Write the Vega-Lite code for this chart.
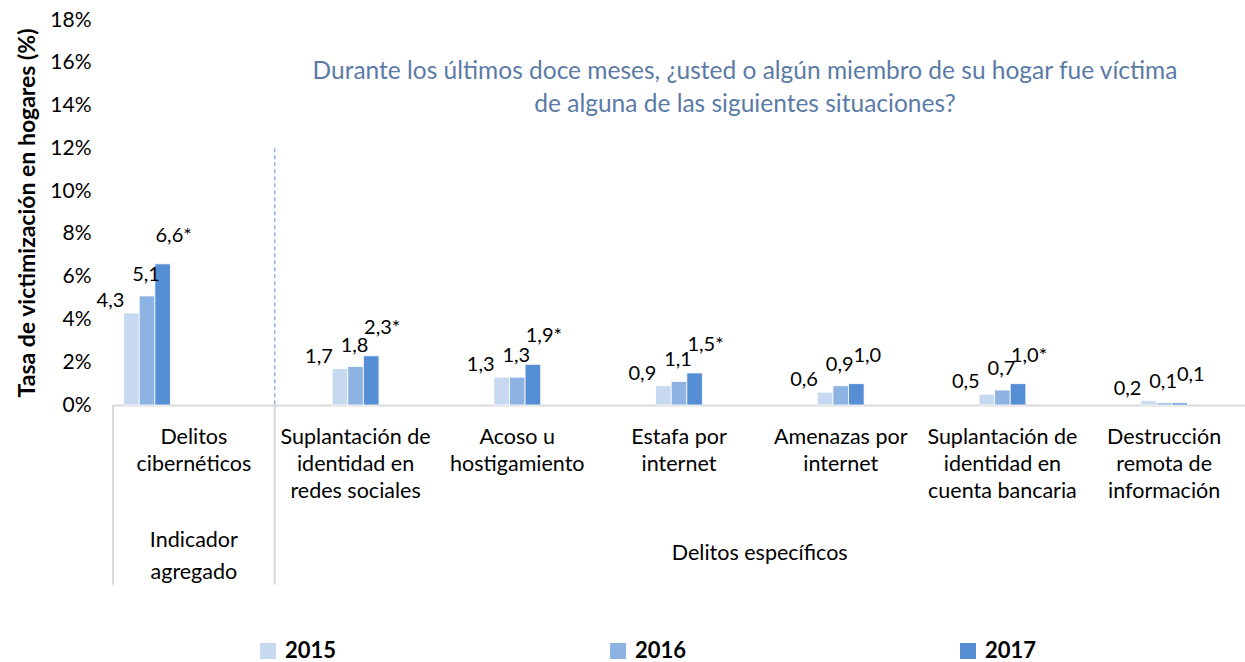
{
  "$schema": "https://vega.github.io/schema/vega-lite/v6.json",
  "width": 1132,
  "height": 385,
  "autosize": {"type": "none"},
  "padding": {"left": 113, "top": 20, "right": 0, "bottom": 257},
  "config": {"font": "Lato", "view": {"stroke": null}},
  "title": {
    "text": ["Durante los últimos doce meses, ¿usted o algún miembro de su hogar fue víctima", "de alguna de las siguientes situaciones?"],
    "font": "Lato", "fontSize": 24.5, "fontWeight": "normal", "color": "#5b7ba6",
    "anchor": "middle", "frame": "group", "dx": 66, "offset": -108, "lineHeight": 33
  },
  "data": {
    "values": [
      {"categoria": "Delitos cibernéticos", "anio": "2015", "serie": "Indicador 2015", "valor": 4.3, "etiqueta": "4,3"},
      {"categoria": "Delitos cibernéticos", "anio": "2016", "serie": "Indicador 2016", "valor": 5.1, "etiqueta": "5,1"},
      {"categoria": "Delitos cibernéticos", "anio": "2017", "serie": "Indicador 2017", "valor": 6.6, "etiqueta": "6,6*"},
      {"categoria": "Suplantación de identidad en redes sociales", "anio": "2015", "serie": "Específico 2015", "valor": 1.7, "etiqueta": "1,7"},
      {"categoria": "Suplantación de identidad en redes sociales", "anio": "2016", "serie": "Específico 2016", "valor": 1.8, "etiqueta": "1,8"},
      {"categoria": "Suplantación de identidad en redes sociales", "anio": "2017", "serie": "Específico 2017", "valor": 2.3, "etiqueta": "2,3*"},
      {"categoria": "Acoso u hostigamiento", "anio": "2015", "serie": "Específico 2015", "valor": 1.3, "etiqueta": "1,3"},
      {"categoria": "Acoso u hostigamiento", "anio": "2016", "serie": "Específico 2016", "valor": 1.3, "etiqueta": "1,3"},
      {"categoria": "Acoso u hostigamiento", "anio": "2017", "serie": "Específico 2017", "valor": 1.9, "etiqueta": "1,9*"},
      {"categoria": "Estafa por internet", "anio": "2015", "serie": "Específico 2015", "valor": 0.9, "etiqueta": "0,9"},
      {"categoria": "Estafa por internet", "anio": "2016", "serie": "Específico 2016", "valor": 1.1, "etiqueta": "1,1"},
      {"categoria": "Estafa por internet", "anio": "2017", "serie": "Específico 2017", "valor": 1.5, "etiqueta": "1,5*"},
      {"categoria": "Amenazas por internet", "anio": "2015", "serie": "Específico 2015", "valor": 0.6, "etiqueta": "0,6"},
      {"categoria": "Amenazas por internet", "anio": "2016", "serie": "Específico 2016", "valor": 0.9, "etiqueta": "0,9"},
      {"categoria": "Amenazas por internet", "anio": "2017", "serie": "Específico 2017", "valor": 1.0, "etiqueta": "1,0"},
      {"categoria": "Suplantación de identidad en cuenta bancaria", "anio": "2015", "serie": "Específico 2015", "valor": 0.5, "etiqueta": "0,5"},
      {"categoria": "Suplantación de identidad en cuenta bancaria", "anio": "2016", "serie": "Específico 2016", "valor": 0.7, "etiqueta": "0,7"},
      {"categoria": "Suplantación de identidad en cuenta bancaria", "anio": "2017", "serie": "Específico 2017", "valor": 1.0, "etiqueta": "1,0*"},
      {"categoria": "Destrucción remota de información", "anio": "2015", "serie": "Específico 2015", "valor": 0.2, "etiqueta": "0,2"},
      {"categoria": "Destrucción remota de información", "anio": "2016", "serie": "Específico 2016", "valor": 0.1, "etiqueta": "0,1"},
      {"categoria": "Destrucción remota de información", "anio": "2017", "serie": "Específico 2017", "valor": 0.1, "etiqueta": "0,1"}
    ]
  },
  "resolve": {"axis": {"x": "independent"}},
  "layer": [
    {
      "mark": {"type": "bar", "stroke": "white", "strokeWidth": 0.8},
      "encoding": {
        "x": {
          "field": "categoria", "type": "nominal", "sort": null,
          "scale": {"domain": ["Delitos cibernéticos", "Suplantación de identidad en redes sociales", "Acoso u hostigamiento", "Estafa por internet", "Amenazas por internet", "Suplantación de identidad en cuenta bancaria", "Destrucción remota de información"], "paddingInner": 0, "paddingOuter": 0},
          "axis": {
            "title": null, "labelAngle": 0, "ticks": false, "domainColor": "#d9d9d9", "domainWidth": 2,
            "labelFontSize": 21.5, "labelColor": "#000000", "labelLineHeight": 27, "labelPadding": 21,
            "labelLimit": 300, "labelOverlap": false,
            "labelExpr": "datum.value == 'Delitos cibernéticos' ? ['Delitos', 'cibernéticos'] : datum.value == 'Suplantación de identidad en redes sociales' ? ['Suplantación de', 'identidad en', 'redes sociales'] : datum.value == 'Acoso u hostigamiento' ? ['Acoso u', 'hostigamiento'] : datum.value == 'Estafa por internet' ? ['Estafa por', 'internet'] : datum.value == 'Amenazas por internet' ? ['Amenazas por', 'internet'] : datum.value == 'Suplantación de identidad en cuenta bancaria' ? ['Suplantación de', 'identidad en', 'cuenta bancaria'] : ['Destrucción', 'remota de', 'información']"
          }
        },
        "xOffset": {
          "field": "serie", "type": "nominal",
          "scale": {"domain": ["Indicador 2015", "Indicador 2016", "Indicador 2017", "Específico 2015", "Específico 2016", "Específico 2017", "x1", "x2", "x3"], "paddingInner": 0, "paddingOuter": 0.68}
        },
        "y": {
          "field": "valor", "type": "quantitative",
          "scale": {"domain": [0, 18]},
          "axis": {
            "title": "Tasa de victimización en hogares (%)", "titleFontSize": 23, "titleFontWeight": "bold", "titleColor": "#000000", "titlePadding": 10,
            "values": [0, 2, 4, 6, 8, 10, 12, 14, 16, 18], "labelExpr": "datum.value + '%'",
            "grid": false, "domain": false, "ticks": false, "labelPadding": 22, "labelFontSize": 21, "labelColor": "#000000"
          }
        },
        "color": {
          "field": "anio", "type": "nominal",
          "scale": {"domain": ["2015", "2016", "2017"], "range": ["#c6d9f1", "#8db3e2", "#558ed5"]},
          "legend": {
            "title": null, "orient": "none", "legendX": 144, "legendY": 620, "direction": "horizontal",
            "symbolType": "square", "symbolSize": 256, "symbolStrokeWidth": 0, "labelFontSize": 22, "labelFontWeight": "bold",
            "labelColor": "#000000", "labelOffset": 6, "columnPadding": 270
          }
        }
      }
    },
    {
      "transform": [{"filter": "datum.anio == '2015'"}],
      "mark": {"type": "text", "fontSize": 20, "color": "#000000", "dx": -21, "dy": -12, "baseline": "middle"},
      "encoding": {
        "x": {"field": "categoria", "type": "nominal", "sort": null, "axis": null},
        "xOffset": {"field": "serie", "type": "nominal"},
        "y": {"field": "valor", "type": "quantitative"},
        "text": {"field": "etiqueta"}
      }
    },
    {
      "transform": [{"filter": "datum.anio == '2016'"}],
      "mark": {"type": "text", "fontSize": 20, "color": "#000000", "dx": -1, "dy": -21, "baseline": "middle"},
      "encoding": {
        "x": {"field": "categoria", "type": "nominal", "sort": null, "axis": null},
        "xOffset": {"field": "serie", "type": "nominal"},
        "y": {"field": "valor", "type": "quantitative"},
        "text": {"field": "etiqueta"}
      }
    },
    {
      "transform": [{"filter": "datum.anio == '2017'"}],
      "mark": {"type": "text", "fontSize": 20, "color": "#000000", "dx": 11, "dy": -28, "baseline": "middle"},
      "encoding": {
        "x": {"field": "categoria", "type": "nominal", "sort": null, "axis": null},
        "xOffset": {"field": "serie", "type": "nominal"},
        "y": {"field": "valor", "type": "quantitative"},
        "text": {"field": "etiqueta"}
      }
    },
    {
      "transform": [{"filter": "datum.anio == '2015' && (datum.categoria == 'Delitos cibernéticos' || datum.categoria == 'Suplantación de identidad en redes sociales')"}],
      "mark": {"type": "rule", "color": "#d9d9d9", "strokeWidth": 2},
      "encoding": {
        "x": {"field": "categoria", "type": "nominal", "sort": null, "bandPosition": 0, "axis": null},
        "y": {"datum": 0, "type": "quantitative"},
        "y2": {"datum": -8.4}
      }
    },
    {
      "data": {"values": [{}]},
      "mark": {"type": "rule", "strokeDash": [4, 3], "color": "#8db3e2", "strokeWidth": 1.5},
      "encoding": {
        "x": {
          "datum": "Suplantación de identidad en redes sociales", "type": "nominal", "bandPosition": 0,
          "axis": {
            "orient": "bottom", "title": null, "domain": false, "ticks": false,
            "labelExpr": "datum.value == 'Delitos cibernéticos' ? ['Indicador', 'agregado'] : datum.value == 'Amenazas por internet' ? 'Delitos específicos' : ''",
            "labelAngle": 0, "labelFontSize": 21.5, "labelLineHeight": 32, "labelBaseline": "middle", "labelAlign": "center",
            "labelPadding": {"condition": {"test": "datum.value == 'Delitos cibernéticos'", "value": 135}, "value": 148},
            "labelOverlap": false, "labelColor": "#000000", "labelLimit": 300,
            "labelOffset": {"condition": {"test": "datum.value == 'Amenazas por internet'", "value": -81}, "value": 0}
          }
        },
        "y": {"datum": 12, "type": "quantitative"},
        "y2": {"datum": 0}
      }
    }
  ]
}
